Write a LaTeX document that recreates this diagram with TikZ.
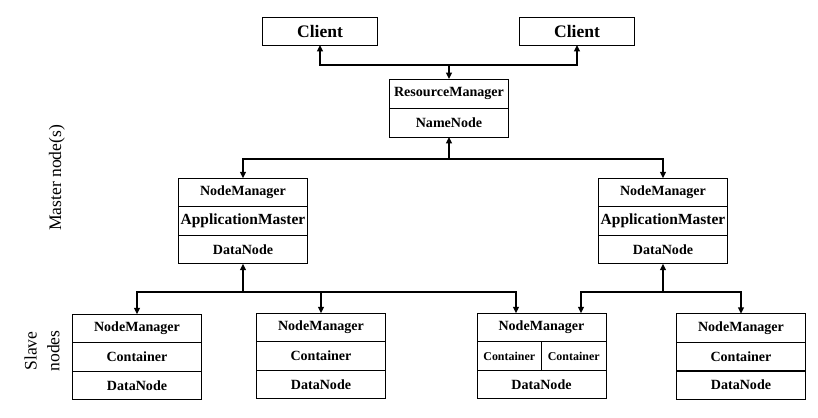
\documentclass[tikz,border=0pt]{standalone}
\usepackage{fontspec}
\setmainfont{Liberation Serif}
\usetikzlibrary{arrows.meta,positioning}

\begin{document}
\begin{tikzpicture}[x=0.02cm, y=-0.02cm,
    cell/.style={draw, line width=0.5pt, outer sep=0pt, inner sep=0pt,
        minimum width=2.58cm, minimum height=0.57cm,
        font=\fontsize{8}{9}\selectfont\bfseries},
    link/.style={-{Triangle[length=3.6pt,width=3.2pt]}, line width=0.85pt},
    side/.style={rotate=90, align=center, font=\fontsize{10}{13}\selectfont}]
    \useasboundingbox (0,0) rectangle (818,418);

    % Clients
    \node[cell, minimum width=2.3cm, minimum height=0.56cm, font=\fontsize{10}{12}\selectfont\bfseries] (cl1) at (320,31) {Client};
    \node[cell, minimum width=2.3cm, minimum height=0.56cm, font=\fontsize{10}{12}\selectfont\bfseries] (cl2) at (577,31) {Client};

    % Master
    \node[cell, minimum width=2.38cm, minimum height=0.58cm] (rm) at (449,93.5) {ResourceManager};
    \node[cell, minimum width=2.38cm, minimum height=0.58cm, below=0pt of rm] (nn) {NameNode};

    \node[cell] (nm1) at (243,192.5) {NodeManager};
    \node[cell, below=0pt of nm1, font=\fontsize{8.8}{9}\selectfont\bfseries] (am1) {ApplicationMaster};
    \node[cell, below=0pt of am1] (dn1) {DataNode};

    \node[cell] (nm2) at (663,192.5) {NodeManager};
    \node[cell, below=0pt of nm2, font=\fontsize{8.8}{9}\selectfont\bfseries] (am2) {ApplicationMaster};
    \node[cell, below=0pt of am2] (dn2) {DataNode};

    % Slaves
    \node[cell] (s1nm) at (137,328.5) {NodeManager};
    \node[cell, below=0pt of s1nm] (s1c) {Container};
    \node[cell, below=0pt of s1c] (s1dn) {DataNode};

    \node[cell] (s2nm) at (321,327.5) {NodeManager};
    \node[cell, below=0pt of s2nm] (s2c) {Container};
    \node[cell, below=0pt of s2c] (s2dn) {DataNode};

    \node[cell] (s3nm) at (541.5,327.5) {NodeManager};
    \node[cell, minimum width=1.29cm, font=\fontsize{6.8}{8}\selectfont\bfseries, below right=0pt of s3nm.south west] (s3ca) {Container};
    \node[cell, minimum width=1.29cm, font=\fontsize{6.8}{8}\selectfont\bfseries, right=0pt of s3ca] (s3cb) {Container};
    \node[cell, below right=0pt of s3ca.south west] (s3dn) {DataNode};

    \node[cell] (s4nm) at (741,328) {NodeManager};
    \node[cell, below=0pt of s4nm] (s4c) {Container};
    \node[cell, below=0pt of s4c] (s4dn) {DataNode};
    \draw[line width=1.1pt] (s4c.south west) -- (s4c.south east);

    % Junctions
    \coordinate (j1) at (449,65);
    \coordinate (j2) at (449,159);
    \coordinate (j3) at (243,292);
    \coordinate (j4) at (663,292);

    % Connectors
    \draw[link] (j1) -- (rm);
    \draw[link] (j1) -| (cl1);
    \draw[link] (j1) -| (cl2);

    \draw[link] (j2) -- (nn);
    \draw[link] (j2) -| (nm1);
    \draw[link] (j2) -| (nm2);

    \draw[link] (j3) -- (dn1);
    \draw[link] (j3) -| (s1nm);
    \draw[link] (j3) -| (s2nm);
    \draw[link] (j3) -| ([xshift=-0.51cm]s3nm.north);

    \draw[link] (j4) -- (dn2);
    \draw[link] (j4) -| ([xshift=0.79cm]s3nm.north);
    \draw[link] (j4) -| (s4nm);

    % Side labels
    \node[side] (master) at (57,178) {Master node(s)};
    \node[side] (slave) at (42,351) {Slave\\nodes};
\end{tikzpicture}
\end{document}
